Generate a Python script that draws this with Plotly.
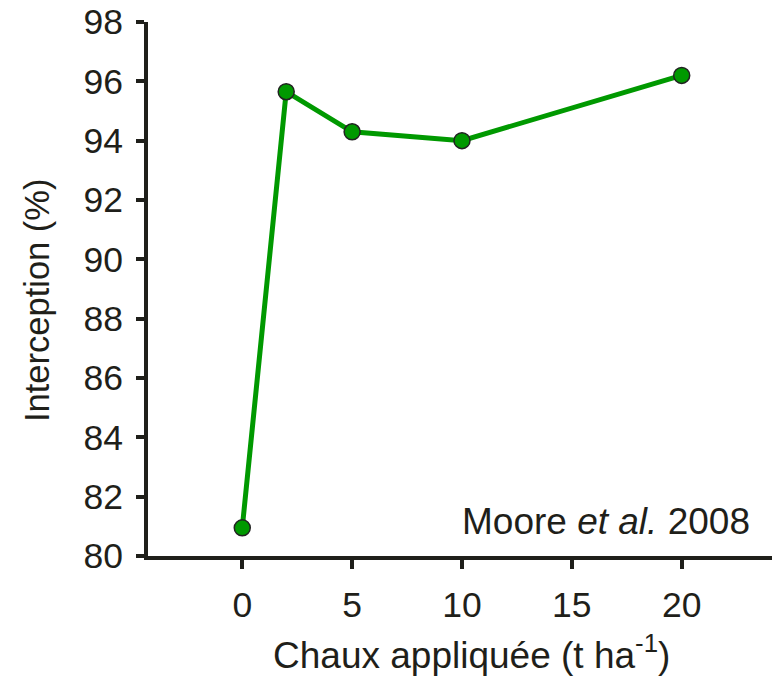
import plotly.graph_objects as go

chaux = [0, 2, 5, 10, 20]
interception = [80.95, 95.65, 94.3, 94.0, 96.2]
x_ticks = [0, 5, 10, 15, 20]
y_ticks = [80, 82, 84, 86, 88, 90, 92, 94, 96, 98]

green = "#009900"
dark = "#1f1f1a"
font = "Liberation Sans, Arial, sans-serif"

fig = go.Figure()
fig.add_trace(go.Scatter(
    x=chaux, y=interception, mode="lines+markers",
    line=dict(color=green, width=5),
    marker=dict(size=16, color=green, line=dict(color="#222222", width=1.5)),
    cliponaxis=False, showlegend=False,
))

fig.update_layout(
    width=772, height=677,
    margin=dict(l=148, r=0, t=22, b=121),
    plot_bgcolor="white", paper_bgcolor="white",
    font=dict(family=font, size=36, color=dark),
    xaxis=dict(
        range=[-4.29, 24.11], tickvals=x_ticks, ticks="outside", ticklen=9,
        tickwidth=4, tickcolor=dark, showline=True, linewidth=4, linecolor=dark,
        showgrid=False, zeroline=False, tickfont=dict(size=35.5),
        ticklabelstandoff=5, automargin=False, ticklabeloverflow="allow",
    ),
    yaxis=dict(
        range=[80, 98], tickvals=y_ticks, ticks="outside", ticklen=8,
        tickwidth=4, tickcolor=dark, showline=True, linewidth=4, linecolor=dark,
        showgrid=False, zeroline=False, tickfont=dict(size=35.5),
        ticklabelstandoff=6, automargin=False, ticklabeloverflow="allow",
    ),
    annotations=[
        dict(text="Moore <i>et al.</i> 2008", xref="paper", yref="y",
             x=0.968, y=81.15, xanchor="right", yanchor="middle",
             showarrow=False, font=dict(size=37, color=dark)),
        dict(text="Chaux appliquée (t ha<sup>-1</sup>)", xref="paper", yref="paper",
             x=0.518, y=0, xanchor="center", yanchor="middle",
             yshift=-96, borderpad=0,
             showarrow=False, font=dict(size=37, color=dark)),
        dict(text="Interception (%)", xref="paper", yref="paper",
             x=0, xshift=-111, y=0.4906, yshift=-6,
             xanchor="center", yanchor="middle", textangle=-90,
             showarrow=False, font=dict(size=34.5, color=dark)),
    ],
)

fig.write_html(
    "out.html",
    config={"displayModeBar": False},
    post_script="document.body.style.margin='0';",
)
